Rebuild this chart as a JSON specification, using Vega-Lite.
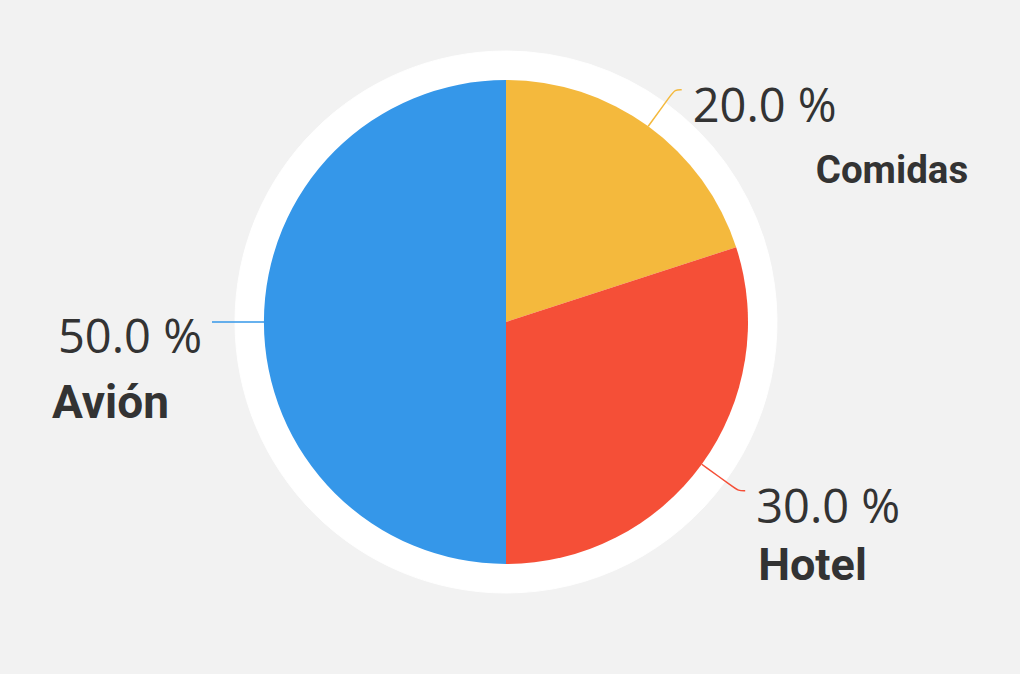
{
  "$schema": "https://vega.github.io/schema/vega-lite/v6.json",
  "width": 1012,
  "height": 644,
  "padding": {"left": 0, "top": 0, "right": 8, "bottom": 30},
  "background": "#f2f2f2",
  "config": {"view": {"stroke": null}},
  "data": {
    "values": [
      {"gasto": "Comidas", "pct": 20, "orden": 1},
      {"gasto": "Hotel", "pct": 30, "orden": 2},
      {"gasto": "Avión", "pct": 50, "orden": 3}
    ]
  },
  "transform": [
    {"joinaggregate": [{"op": "sum", "field": "pct", "as": "total"}]},
    {"window": [{"op": "sum", "field": "pct", "as": "acum"}], "sort": [{"field": "orden"}], "frame": [null, 0]},
    {"calculate": "(datum.acum - datum.pct / 2) / datum.total * 2 * PI", "as": "mid"},
    {"calculate": "sin(datum.mid) >= 0 ? 1 : -1", "as": "lado"},
    {"calculate": "287 * sin(datum.mid) + datum.lado * 7", "as": "lx"},
    {"calculate": "287 * cos(datum.mid)", "as": "ly"},
    {"calculate": "format(datum.pct, '.1f') + ' %'", "as": "etiqueta"}
  ],
  "layer": [
    {
      "mark": {"type": "arc", "radius": 271, "fill": "#ffffff", "stroke": "#ffffff", "strokeWidth": 1},
      "encoding": {
        "theta": {"field": "pct", "type": "quantitative", "stack": true},
        "order": {"field": "orden"}
      }
    },
    {
      "mark": {"type": "arc", "radius": 242},
      "encoding": {
        "theta": {"field": "pct", "type": "quantitative", "stack": true},
        "order": {"field": "orden"},
        "color": {
          "field": "gasto",
          "type": "nominal",
          "scale": {"domain": ["Comidas", "Hotel", "Avión"], "range": ["#f4b93d", "#f54f37", "#3597e9"]},
          "legend": null
        }
      }
    },
    {
      "transform": [
        {"calculate": "[0, 1, 2, 3]", "as": "paso"},
        {"flatten": ["paso"]},
        {"calculate": "datum.paso == 0 ? 242 : (datum.paso == 1 ? 281 : 287)", "as": "rr"},
        {"calculate": "datum.rr * sin(datum.mid) + (datum.paso == 3 ? datum.lado * 7 : 0)", "as": "px"},
        {"calculate": "datum.rr * cos(datum.mid)", "as": "py"}
      ],
      "mark": {"type": "line", "interpolate": "basis", "strokeWidth": 1.5},
      "encoding": {
        "x": {"field": "px", "type": "quantitative", "scale": {"domain": [-506, 506], "nice": false, "zero": false}, "axis": null},
        "y": {"field": "py", "type": "quantitative", "scale": {"domain": [-322, 322], "nice": false, "zero": false}, "axis": null},
        "order": {"field": "paso"},
        "detail": {"field": "gasto"},
        "color": {"field": "gasto", "type": "nominal", "legend": null}
      }
    },
    {
      "transform": [{"filter": "datum.lado > 0"}],
      "mark": {"type": "text", "align": "left", "baseline": "alphabetic", "dx": 11, "dy": 32, "font": "Open Sans", "fontSize": 47, "fill": "#333333"},
      "encoding": {
        "x": {"field": "lx", "type": "quantitative"},
        "y": {"field": "ly", "type": "quantitative"},
        "text": {"field": "etiqueta"}
      }
    },
    {
      "transform": [{"filter": "datum.lado < 0"}],
      "mark": {"type": "text", "align": "right", "baseline": "alphabetic", "dx": -10, "dy": 31, "font": "Open Sans", "fontSize": 47, "fill": "#333333"},
      "encoding": {
        "x": {"field": "lx", "type": "quantitative"},
        "y": {"field": "ly", "type": "quantitative"},
        "text": {"field": "etiqueta"}
      }
    },
    {
      "transform": [{"filter": "datum.gasto == 'Comidas'"}],
      "mark": {"type": "text", "align": "left", "baseline": "alphabetic", "dx": 134, "dy": 93, "font": "Roboto", "fontWeight": "bold", "fontSize": 38.5, "fill": "#333333"},
      "encoding": {
        "x": {"field": "lx", "type": "quantitative"},
        "y": {"field": "ly", "type": "quantitative"},
        "text": {"field": "gasto"}
      }
    },
    {
      "transform": [{"filter": "datum.gasto == 'Hotel'"}],
      "mark": {"type": "text", "align": "left", "baseline": "alphabetic", "dx": 13, "dy": 89, "font": "Roboto", "fontWeight": "bold", "fontSize": 45, "fill": "#333333"},
      "encoding": {
        "x": {"field": "lx", "type": "quantitative"},
        "y": {"field": "ly", "type": "quantitative"},
        "text": {"field": "gasto"}
      }
    },
    {
      "transform": [{"filter": "datum.gasto == 'Avión'"}],
      "mark": {"type": "text", "align": "right", "baseline": "alphabetic", "dx": -43, "dy": 96, "font": "Roboto", "fontWeight": "bold", "fontSize": 46, "fill": "#333333"},
      "encoding": {
        "x": {"field": "lx", "type": "quantitative"},
        "y": {"field": "ly", "type": "quantitative"},
        "text": {"field": "gasto"}
      }
    }
  ]
}
